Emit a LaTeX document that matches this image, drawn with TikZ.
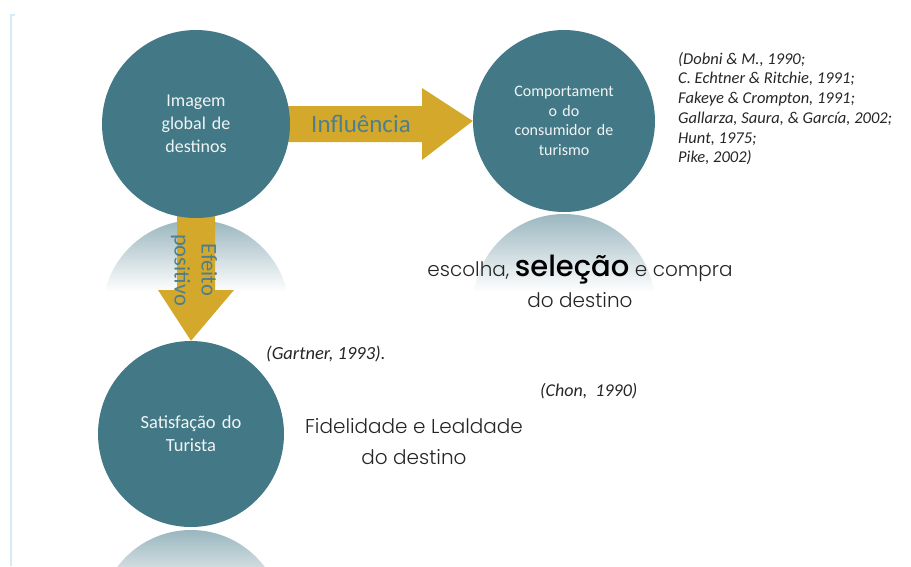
\documentclass[tikz,border=0pt]{standalone}
\usepackage{fontspec}
\setmainfont{Carlito}
\newfontfamily\gothic{Poppins}[UprightFont=* Light, BoldFont=* Medium]
\definecolor{circ}{HTML}{437986}
\definecolor{gold}{HTML}{D4A82A}
\definecolor{lbl}{HTML}{4E7F8E}
\definecolor{refl}{HTML}{9AB6BF}
\definecolor{bordercol}{HTML}{D6EBF5}
\definecolor{cite}{HTML}{262626}
\tikzset{
  bigcirc/.style={circle, fill=circ, text=white!92!circ, align=center, inner sep=0pt},
  arrowfill/.style={fill=gold},
  arrowlbl/.style={text=lbl, font=\fontsize{25}{28}\selectfont, align=center},
  citetxt/.style={text=cite, font=\fontsize{16.5}{19.7}\selectfont\itshape, align=left, anchor=north west, inner sep=0pt},
  gothictxt/.style={text=black!85, font=\gothic\fontsize{20}{31}\selectfont, align=center},
}
\begin{document}
\begin{tikzpicture}[x=1pt,y=-1pt]
\useasboundingbox (0,0) rectangle (911,566);
% left border
\fill[bordercol] (10,14) rectangle (12,566);
\fill[bordercol] (10,14) rectangle (15,16);
% reflections
\begin{scope}
\clip (196,314) circle (94);
\shade[top color=refl, bottom color=white] (100,220) rectangle (292,292);
\end{scope}
\begin{scope}
\clip (564,305) circle (91);
\shade[top color=refl, bottom color=white] (470,213) rectangle (660,292);
\end{scope}
\begin{scope}
\clip (191,622) circle (92);
\shade[top color=refl, bottom color=white] (95,530) rectangle (290,600);
\end{scope}
% circles
\node[bigcirc, minimum size=182pt, font=\fontsize{16}{19.5}\selectfont, text width=120pt] (comp) at (564,121) {Comportament\\o do\\consumidor de\\turismo};
\node[bigcirc, minimum size=186pt, font=\fontsize{18.5}{23}\selectfont, text width=120pt] (sat) at (191,434) {Satisfação do\\Turista};
\coordinate (imgc) at (196,124);
% arrows
\fill[arrowfill] (270,106) -- (422,106) -- (422,88) -- (comp.west) -- (422,160) -- (422,142) -- (270,142) -- cycle;
\fill[arrowfill] (177,205) -- (215,205) -- (215,290) -- (234,290) -- (sat.north) -- (158,290) -- (177,290) -- cycle;
\node[bigcirc, minimum size=188pt, font=\fontsize{18}{23}\selectfont, text width=80pt] (img) at (imgc) {Imagem\\global de\\destinos};
\node[arrowlbl] (infl) at (361,124) {Influência};
\node[arrowlbl, rotate=-90, font=\fontsize{22.5}{27}\selectfont] (efeito) at (194,270) {Efeito\\positivo};
% texts
\node[gothictxt] (esc) at (580,281) {escolha, {\bfseries\color{black}\fontsize{29}{31}\selectfont seleção} e compra\\do destino};
\node[gothictxt] (fid) at (414,442) {Fidelidade e Lealdade\\do destino};
\node[citetxt] (refs) at (678,52) {(Dobni \& M., 1990;\\C. Echtner \& Ritchie, 1991;\\Fakeye \& Crompton, 1991;\\Gallarza, Saura, \& García, 2002;\\Hunt, 1975;\\Pike, 2002)};
\node[citetxt, font=\fontsize{18.5}{22}\selectfont\itshape] (gart) at (266,346) {(Gartner, 1993).};
\node[citetxt, font=\fontsize{18}{22}\selectfont\itshape] (chon) at (540,383) {(Chon,\ \ 1990)};
\end{tikzpicture}
\end{document}
